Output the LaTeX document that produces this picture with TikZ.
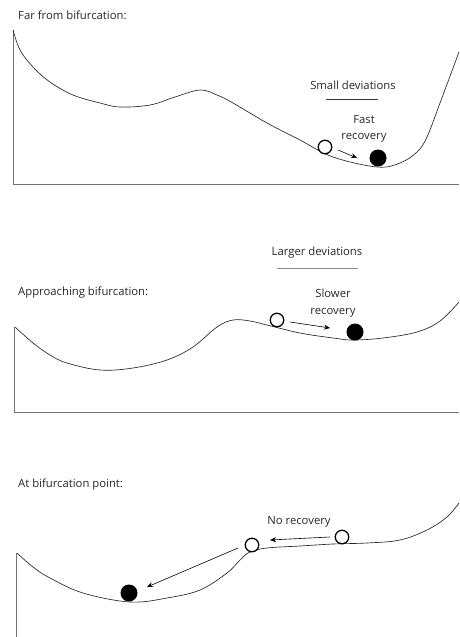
\documentclass[tikz,border=0pt]{standalone}
\usepackage{fontspec}
\setmainfont{Open Sans}
\usetikzlibrary{arrows.meta}

\tikzset{
  openball/.style={circle, draw, fill=white, line width=1.3pt, minimum size=13.5pt, inner sep=0pt},
  fullball/.style={circle, fill=black, minimum size=17pt, inner sep=0pt},
  frame/.style={draw=black!55, line width=0.9pt},
  valley/.style={line width=0.65pt, black!85},
  push/.style={-{Stealth[length=6pt,width=5pt]}, line width=0.6pt},
  lbl/.style={font=\fontsize{11.3}{16.5}\selectfont, text=black!85, inner sep=0pt},
}

\begin{document}
\begin{tikzpicture}[x=1pt,y=-1pt]
			%%%%% START %%%%%
			\useasboundingbox (0,0) rectangle (459,637);
			
			% far from bifurcation
			\node[lbl, anchor=west] (title1) at (18,15) {Far from bifurcation:};
			\draw[frame] (13,30) -- (13,184) -- (459,184);
			\draw[valley] plot[smooth, tension=0.6] coordinates {(13,30) (20,50) (33,67) (50,82) (73,95) (100,103) (120,107) (150,105) (175,97) (200,90) (217,95) (233,103) (267,123) (300,140) (333,157) (377,167) (400,163) (417,152) (427,137) (440,103) (459,52)};
			\node[lbl] (small) at (353,85) {Small deviations};
			\draw[black!80, line width=0.6pt] (326,99) -- (378,99);
			\node[lbl, align=center] (fast) at (364,129) {Fast\\recovery};
			\node[openball] (start1) at (325,147) {};
			\node[fullball] (end1) at (378,158) {};
			\coordinate (a1) at (338,150);
			\coordinate (b1) at (357,158);
			\draw[push] (a1) -- (b1);
			
			% approaching bifurcation
			\node[lbl, anchor=west] (title2) at (18,293) {Approaching bifurcation:};
			\draw[frame] (14,327) -- (14,412) -- (459,412);
			\draw[valley] plot[smooth, tension=0.6] coordinates {(15,327) (33,343) (50,355) (67,363) (100,370) (133,368) (167,360) (193,347) (217,327) (233,320) (250,321) (267,325) (300,333) (333,338) (353,340) (383,338) (417,332) (440,321) (459,302)};
			\node[lbl] (larger) at (317,253) {Larger deviations};
			\draw[black!45, line width=0.6pt] (277,268) -- (358,268);
			\node[lbl, align=center] (slower) at (333,303) {Slower\\recovery};
			\node[openball] (start2) at (277,320) {};
			\node[fullball] (end2) at (355,332) {};
			\coordinate (a2) at (290,322);
			\coordinate (b2) at (330,328);
			\draw[push] (a2) -- (b2);
			
			% at bifurcation point
			\node[lbl, anchor=west] (title3) at (18,485) {At bifurcation point:};
			\draw[frame] (16,553) -- (16,637);
			\draw[valley] plot[smooth, tension=0.6] coordinates {(17,553) (33,567) (50,578) (83,593) (130,602) (167,598) (200,590) (227,573) (240,560) (250,552) (267,548) (300,546) (333,544) (367,543) (400,540) (427,530) (447,517) (459,503)};
			\node[lbl] (norec) at (299,522) {No recovery};
			\node[openball] (start3) at (342,537) {};
			\node[openball] (mid3) at (252,545) {};
			\node[fullball] (end3) at (129,593) {};
			\coordinate (a3) at (330,537);
			\coordinate (b3) at (270,540);
			\coordinate (c3) at (238,548);
			\coordinate (d3) at (147,587);
			\draw[push] (a3) -- (b3);
			\draw[push] (c3) -- (d3);
			
			%%%%% END %%%%%
\end{tikzpicture}
\end{document}
